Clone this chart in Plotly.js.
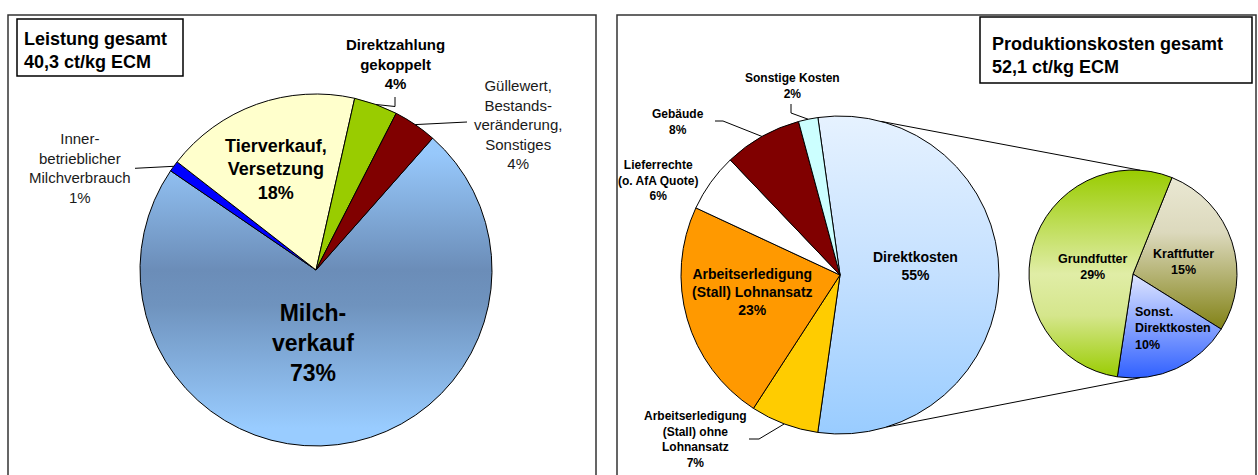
<!DOCTYPE html>
<html><head><meta charset="utf-8">
<script src="https://cdn.plot.ly/plotly-3.0.1.min.js"></script>
<style>html,body{margin:0;padding:0;background:#fff;}#chart{width:1258px;height:475px;}</style>
</head><body><div id="chart"></div>
<script>
const W = 1258, H = 475;

// ---- Leistung (left pie) ----
const leistungLabels = ['Milchverkauf', 'Innerbetrieblicher Milchverbrauch', 'Tierverkauf, Versetzung', 'Direktzahlung gekoppelt', 'Güllewert, Bestandsveränderung, Sonstiges'];
const leistungText = ['Milch-<br>verkauf', 'Inner-<br>betrieblicher<br>Milchverbrauch', 'Tierverkauf,<br>Versetzung', 'Direktzahlung<br>gekoppelt', 'Güllewert,<br>Bestands-<br>veränderung,<br>Sonstiges'];
const leistungValues = [73, 1, 18, 4, 4];
const leistungColors = ['#86aedb', '#0000ff', '#ffffcc', '#99cc00', '#800000'];
const leistungTitle = ['Leistung gesamt', '40,3 ct/kg ECM'];

// ---- Produktionskosten (right pie) ----
const kostenLabels = ['Direktkosten', 'Arbeitserledigung (Stall) ohne Lohnansatz', 'Arbeitserledigung (Stall) Lohnansatz', 'Lieferrechte (o. AfA Quote)', 'Gebäude', 'Sonstige Kosten'];
const kostenText = ['Direktkosten', 'Arbeitserledigung<br>(Stall) ohne<br>Lohnansatz', 'Arbeitserledigung<br>(Stall) Lohnansatz', 'Lieferrechte<br>(o. AfA Quote)', 'Gebäude', 'Sonstige Kosten'];
const kostenValues = [55, 7, 23, 6, 8, 2];
const kostenColors = ['#c4e0ff', '#ffcc00', '#ff9900', '#ffffff', '#800000', '#ccffff'];
const kostenTitle = ['Produktionskosten gesamt', '52,1 ct/kg ECM'];

// ---- Direktkosten breakdown (small pie) ----
const direktLabels = ['Kraftfutter', 'Sonst. Direktkosten', 'Grundfutter'];
const direktText = ['Kraftfutter', 'Sonst.<br>Direktkosten', 'Grundfutter'];
const direktValues = [15, 10, 29];
const direktColors = ['#bdb98f', '#9fb4ff', '#c4df6a'];

const FONT = 'Liberation Sans, Arial, sans-serif';
const px = x => x / W;
const py = y => 1 - y / H;

const rotL = 41.5, rotR = -8, rotS = 22;

const traces = [
  {type: 'pie', labels: leistungLabels, values: leistungValues, sort: false, direction: 'clockwise', rotation: rotL,
   marker: {colors: leistungColors, line: {color: '#000', width: 1}}, textinfo: 'none', hoverinfo: 'label+percent',
   domain: {x: [px(140), px(492)], y: [py(446), py(94)]}, showlegend: false},
  {type: 'pie', labels: kostenLabels, values: kostenValues, sort: false, direction: 'clockwise', rotation: rotR,
   marker: {colors: kostenColors, line: {color: '#000', width: 1}}, textinfo: 'none', hoverinfo: 'label+percent',
   domain: {x: [px(681), px(999)], y: [py(434), py(116)]}, showlegend: false},
  {type: 'pie', labels: direktLabels, values: direktValues, sort: false, direction: 'clockwise', rotation: rotS,
   marker: {colors: direktColors, line: {color: '#000', width: 1}}, textinfo: 'none', hoverinfo: 'label+value',
   domain: {x: [px(1029), px(1237)], y: [py(378), py(170)]}, showlegend: false}
];

function ann(text, x, y, size, bold, opts) {
  return Object.assign({
    xref: 'paper', yref: 'paper', x: px(x), y: py(y), xanchor: 'center', yanchor: 'middle',
    text: bold ? '<b>' + text + '</b>' : text, showarrow: false, align: 'center',
    font: {family: FONT, size: size, color: bold ? '#000' : '#1a1a1a'}
  }, opts || {});
}
const pct = v => v + '%';

const annotations = [
  // left
  ann(leistungTitle.join('<br>'), 22, 51, 18, true, {xanchor: 'left', align: 'left'}),
  ann(leistungText[0] + '<br>' + pct(leistungValues[0]), 313, 343, 23, true),
  ann(leistungText[1] + '<br>' + pct(leistungValues[1]), 80, 168, 15, false),
  ann(leistungText[2] + '<br>' + pct(leistungValues[2]), 276, 169, 18, true),
  ann(leistungText[3] + '<br>' + pct(leistungValues[3]), 395, 64, 15, true),
  ann(leistungText[4] + '<br>' + pct(leistungValues[4]), 518, 124, 15, false),
  // right
  ann(kostenTitle.join('<br>'), 990, 55, 18, true, {xanchor: 'left', align: 'left'}),
  ann(kostenText[0] + '<br>' + pct(kostenValues[0]), 915, 266, 14, true),
  ann(kostenText[1] + '<br>' + pct(kostenValues[1]), 696, 439, 12, true),
  ann(kostenText[2] + '<br>' + pct(kostenValues[2]), 752, 292, 14, true),
  ann(kostenText[3] + '<br>' + pct(kostenValues[3]), 658, 181, 12, true),
  ann(kostenText[4] + '<br>' + pct(kostenValues[4]), 678, 122, 12, true),
  ann(kostenText[5] + '<br>' + pct(kostenValues[5]), 792, 86, 12, true),
  // sub pie
  ann(direktText[0] + '<br>' + pct(direktValues[0]), 1183, 262, 12.5, true),
  ann(direktText[1] + '<br>' + pct(direktValues[1]), 1133, 328, 12.5, true, {xanchor: 'left', align: 'left'}),
  ann(direktText[2] + '<br>' + pct(direktValues[2]), 1093, 267, 12.5, true)
];

function rect(x0, y0, x1, y1, color, w) {
  return {type: 'rect', xref: 'paper', yref: 'paper', x0: px(x0), x1: px(x1), y0: py(y1), y1: py(y0),
          line: {color: color, width: w}, fillcolor: 'rgba(0,0,0,0)'};
}
function seg(a, b) {
  return {type: 'line', xref: 'paper', yref: 'paper', x0: px(a[0]), y0: py(a[1]), x1: px(b[0]), y1: py(b[1]),
          line: {color: '#000', width: 1}};
}
const baseShapes = [
  rect(8, 15, 596, 490, '#333', 1.5),
  rect(617, 15, 1256, 490, '#333', 1.5),
  rect(17, 19, 183, 76, '#000', 1.5),
  rect(980, 17, 1252, 83, '#000', 1.5)
];

const layout = {
  width: W, height: H, margin: {l: 0, r: 0, t: 0, b: 0},
  paper_bgcolor: '#fff', plot_bgcolor: '#fff',
  annotations: annotations, shapes: baseShapes, showlegend: false
};

const gd = document.getElementById('chart');

function midAngle(values, rot, idx) {
  const tot = values.reduce((a, b) => a + b, 0);
  let c = 0; for (let i = 0; i < idx; i++) c += values[i];
  return rot + (c + values[idx] / 2) / tot * 360;
}
function arcPt(cd0, deg) {
  const a = deg * Math.PI / 180;
  return [cd0.cx + cd0.r * Math.sin(a), cd0.cy - cd0.r * Math.cos(a)];
}

function applyGradients() {
  const svg = gd.querySelector('.main-svg');
  let defs = svg.querySelector('defs');
  const NS = 'http://www.w3.org/2000/svg';
  function grad(id, cd0, stops) {
    const old = document.getElementById(id); if (old) old.remove();
    const g = document.createElementNS(NS, 'linearGradient');
    g.setAttribute('id', id);
    g.setAttribute('gradientUnits', 'userSpaceOnUse');
    g.setAttribute('x1', cd0.cx); g.setAttribute('x2', cd0.cx);
    g.setAttribute('y1', cd0.cy - cd0.r); g.setAttribute('y2', cd0.cy + cd0.r);
    stops.forEach(s => {
      const st = document.createElementNS(NS, 'stop');
      st.setAttribute('offset', s[0]); st.setAttribute('stop-color', s[1]);
      g.appendChild(st);
    });
    defs.appendChild(g);
    return 'url(#' + id + ')';
  }
  const tr = gd.querySelectorAll('.pielayer .trace');
  const cdL = gd.calcdata[0][0], cdR = gd.calcdata[1][0], cdS = gd.calcdata[2][0];
  const sl = i => tr[i].querySelectorAll('.slice path.surface');
  const L = sl(0), R = sl(1), S = sl(2);
  L[0].style.fill = grad('gMilch', cdL, [[0, '#99ccff'], [0.17, '#97c8fb'], [0.5, '#6b8db8'], [0.6, '#6f93be'], [0.95, '#99ccff'], [1, '#99ccff']]);
  R[0].style.fill = grad('gDirekt', cdR, [[0, '#e6f2ff'], [0.5, '#c4e0ff'], [1, '#99ccff']]);
  S[0].style.fill = grad('gKraft', cdS, [[0, '#ecead6'], [0.3, '#dcd9bd'], [0.78, '#7f7f10'], [1, '#7f7f10']]);
  S[1].style.fill = grad('gSonst', cdS, [[0, '#ffffff'], [0.5, '#dfe6ff'], [1, '#3060ff']]);
  S[2].style.fill = grad('gGrund', cdS, [[0, '#99cc00'], [0.5, '#e0eda6'], [0.7, '#d5e68c'], [1, '#99cc00']]);
}

Plotly.newPlot(gd, traces, layout, {displayModeBar: false, staticPlot: true}).then(() => {
  const cdL = gd.calcdata[0][0], cdR = gd.calcdata[1][0], cdS = gd.calcdata[2][0];
  const lines = [];
  // left leader lines
  let p = arcPt(cdL, midAngle(leistungValues, rotL, 1));
  lines.push(seg(p, [135, p[1] + 2]));
  p = arcPt(cdL, midAngle(leistungValues, rotL, 3));
  lines.push(seg(p, [395, p[1] + 2]), seg([395, p[1] + 2], [395, 97]));
  p = arcPt(cdL, midAngle(leistungValues, rotL, 4));
  lines.push(seg(p, [467, 122]));
  // right leader lines
  p = arcPt(cdR, midAngle(kostenValues, rotR, 5));
  lines.push(seg(p, [791, 113]), seg([791, 113], [791, 104]));
  p = arcPt(cdR, midAngle(kostenValues, rotR, 4));
  lines.push(seg(p, [723, 121]), seg([723, 121], [715, 121]));
  p = arcPt(cdR, midAngle(kostenValues, rotR, 1));
  lines.push(seg(p, [759, 439]), seg([759, 439], [749, 439]));
  // bar-of-pie connectors
  lines.push(seg(arcPt(cdR, 15), arcPt(cdS, 4)));
  lines.push(seg(arcPt(cdR, 163), arcPt(cdS, 176)));
  return Plotly.relayout(gd, {shapes: baseShapes.concat(lines)});
}).then(applyGradients);
</script>
</body></html>
